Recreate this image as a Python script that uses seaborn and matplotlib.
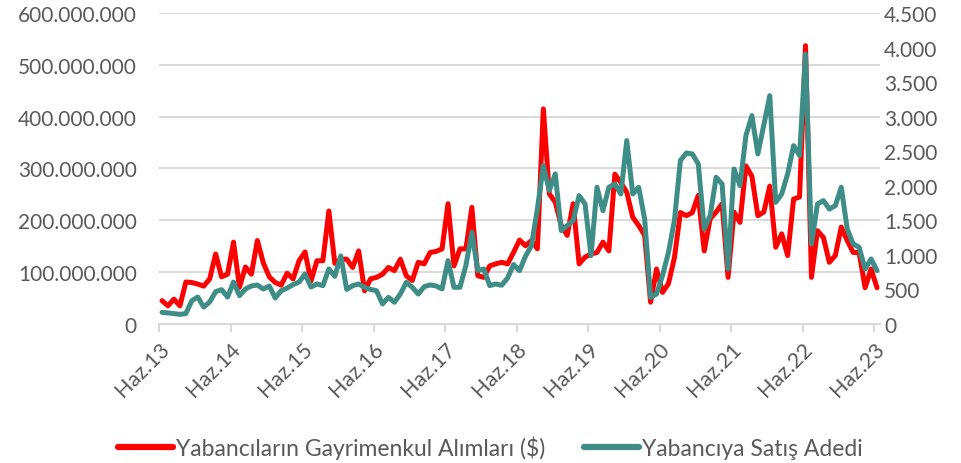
import numpy as np
import pandas as pd
import matplotlib
matplotlib.use("Agg")
import matplotlib.pyplot as plt
import seaborn as sns

# aylik veri, Haziran 2013 - Haziran 2023
tick_labels = ["Haz.13", "Haz.14", "Haz.15", "Haz.16", "Haz.17", "Haz.18",
               "Haz.19", "Haz.20", "Haz.21", "Haz.22", "Haz.23"]

# yabancilarin gayrimenkul alimlari, milyon $
alim_mn = [45, 35, 48, 35, 81, 80, 77, 73, 87, 135, 91, 96,
           158, 71, 110, 96, 161, 118, 91, 80, 75, 98, 87, 122,
           139, 83, 122, 122, 218, 117, 125, 125, 109, 141, 64, 87,
           90, 96, 109, 103, 125, 93, 84, 119, 116, 138, 140, 145,
           232, 112, 145, 145, 225, 93, 90, 112, 116, 119, 116, 138,
           162, 151, 161, 145, 415, 251, 235, 190, 171, 232, 116, 129,
           135, 138, 158, 141, 289, 273, 254, 206, 190, 171, 42, 106,
           61, 78, 128, 215, 209, 215, 248, 141, 203, 216, 232, 90,
           216, 196, 305, 285, 209, 216, 266, 148, 174, 132, 241, 245,
           537, 90, 180, 167, 119, 132, 187, 161, 138, 138, 70, 106, 70]

# yabanciya satis adedi
satis = [169, 160, 150, 140, 150, 337, 390, 245, 318, 468, 497, 390,
         607, 410, 506, 550, 564, 506, 550, 376, 482, 520, 570, 607,
         724, 535, 579, 555, 796, 690, 984, 500, 555, 579, 531, 500,
         482, 290, 386, 314, 434, 603, 531, 434, 540, 565, 550, 507,
         917, 531, 531, 845, 1326, 772, 796, 555, 579, 560, 665, 860,
         772, 980, 1134, 1664, 2292, 1930, 2171, 1351, 1423, 1495, 1857, 1736,
         989, 1978, 1640, 1978, 2026, 1881, 2654, 1881, 1978, 1519, 385, 434,
         700, 1037, 1500, 2364, 2475, 2461, 2316, 1375, 1568, 2123, 2026, 796,
         2243, 2002, 2726, 3015, 2461, 2880, 3304, 1760, 1881, 2171, 2581, 2437,
         3907, 1158, 1736, 1785, 1664, 1712, 1978, 1375, 1158, 1110, 796, 941, 772]

df = pd.DataFrame({"ay": np.arange(len(alim_mn)),
                   "alim": np.array(alim_mn) * 1e6,
                   "satis": satis})

sns.set_style("white")
plt.rcParams['font.family'] = ['Lato', 'DejaVu Sans']

gray = "#595959"
grid = "#D9D9D9"

def nokta(v):
    return f"{int(v):,}".replace(",", ".")

fig = plt.figure(figsize=(9.61, 4.64), dpi=100)
ax = fig.add_axes([0.1655, 0.2996, 0.7502, 0.6702])
ax2 = ax.twinx()

sns.lineplot(data=df, x="ay", y="alim", ax=ax, color="#FF0000", lw=3.6,
             label="Yabancıların Gayrimenkul Alımları ($)", legend=False)
sns.lineplot(data=df, x="ay", y="satis", ax=ax2, color="#3E8E87", lw=3.6,
             label="Yabancıya Satış Adedi", legend=False)

ax.set_xlim(-0.5, len(alim_mn) - 0.5)
ax.set_ylim(0, 6e8)
ax2.set_ylim(0, 4500)

yt = np.arange(0, 6e8 + 1, 1e8)
ax.set_yticks(yt)
ax.set_yticklabels([nokta(v) for v in yt])
yt2 = np.arange(0, 4501, 500)
ax2.set_yticks(yt2)
ax2.set_yticklabels([nokta(v) for v in yt2])

ax.set_xticks([12 * k - 0.5 for k in range(len(tick_labels))])
ax.set_xticklabels(tick_labels, rotation=45, ha="right", va="top",
                   rotation_mode="anchor")

ax.yaxis.grid(True, color=grid, lw=1.4)
ax.set_axisbelow(True)
for s in ["top", "left", "right"]:
    ax.spines[s].set_visible(False)
    ax2.spines[s].set_visible(False)
ax2.spines["bottom"].set_visible(False)
ax.spines["bottom"].set_color(grid)
ax.spines["bottom"].set_linewidth(1.5)

ax.tick_params(axis="y", length=0, pad=16, labelsize=15, labelcolor=gray)
ax2.tick_params(axis="y", length=0, pad=3, labelsize=15, labelcolor=gray)
ax.tick_params(axis="x", direction="out", length=6, width=1.5, color=grid,
               labelsize=15.5, labelcolor=gray, pad=4, bottom=True)
ax.set_xlabel("")
ax.set_ylabel("")
ax2.set_ylabel("")

handles = ax.get_lines()[:1] + ax2.get_lines()[:1]
leg = fig.legend(handles, [h.get_label() for h in handles], loc="lower center",
                 bbox_to_anchor=(0.51, -0.035), ncol=2, frameon=False,
                 fontsize=16.5, handlelength=2.4, handletextpad=0.12,
                 columnspacing=1.7)
for t in leg.get_texts():
    t.set_color(gray)
for h in leg.get_lines():
    h.set_linewidth(4.5)

fig.savefig("out.png", dpi=100)
